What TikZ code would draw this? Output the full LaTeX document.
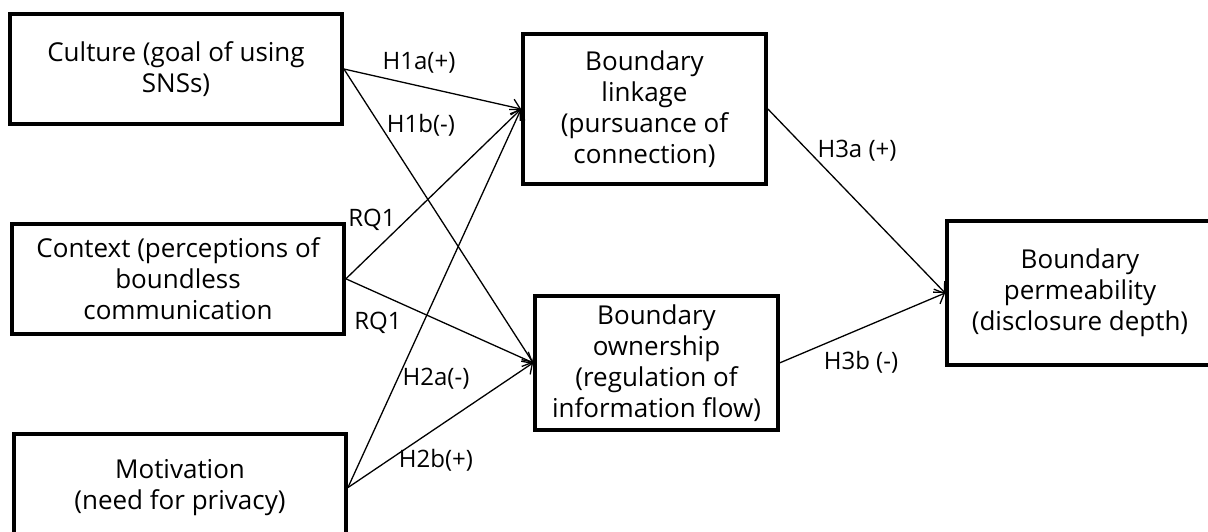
\documentclass[tikz,border=0pt]{standalone}
\usepackage{fontspec}
\setmainfont{Open Sans}
\usetikzlibrary{arrows.meta, positioning}

\begin{document}
\begin{tikzpicture}[
        x=0.5pt, y=-0.5pt,
        node distance=48pt,
        box/.style={draw, rectangle, line width=1.9pt, align=center, inner sep=0pt, font=\fontsize{13}{15.5}\selectfont},
        lbl/.style={inner sep=0pt, font=\fontsize{12}{14}\selectfont},
        arrow/.style={-{Straight Barb[length=4pt, width=8pt]}, line width=0.65pt}
    ]
        \path[use as bounding box, clip] (0,0) rectangle (1208,531);

        % Antecedents
        \node (culture) [box, minimum width=166pt, minimum height=55pt] at (176,69) {Culture (goal of using\\SNSs)};
        \node (context) [box, below=of culture, minimum width=166pt, minimum height=55pt, xshift=1pt] {Context (perceptions of\\boundless\\communication};
        \node (motivation) [box, below=of context, minimum width=166pt, minimum height=54pt, xshift=1pt] {Motivation\\(need for privacy)};

        % Boundary rules
        \node (linkage) [box, minimum width=121.5pt, minimum height=75pt] at (644.5,109) {Boundary\\linkage\\(pursuance of\\connection)};
        \node (ownership) [box, below=54pt of linkage, minimum width=121.5pt, minimum height=67pt, xshift=6pt] {Boundary\\ownership\\(regulation of\\information flow)};

        % Outcome
        \node (permeability) [box, minimum width=133pt, minimum height=72pt] at (1080,293) {Boundary\\permeability\\(disclosure depth)};

        % Connections
        \draw [arrow] (culture.east) -- (linkage.west);
        \draw [arrow] (culture.east) -- (ownership.west);
        \draw [arrow] (context.east) -- (linkage.west);
        \draw [arrow] (context.east) -- (ownership.west);
        \draw [arrow] (motivation.east) -- (linkage.west);
        \draw [arrow] (motivation.east) -- (ownership.west);
        \draw [arrow] (linkage.east) -- (permeability.west);
        \draw [arrow] (ownership.east) -- (permeability.west);

        % Path labels
        \node (h1a) [lbl] at (419,63) {H1a(+)};
        \node (h1b) [lbl] at (421,125) {H1b(-)};
        \node (rq1a) [lbl] at (372,220) {RQ1};
        \node (rq1b) [lbl] at (378,323) {RQ1};
        \node (h2a) [lbl] at (436,379) {H2a(-)};
        \node (h2b) [lbl] at (436,460) {H2b(+)};
        \node (h3a) [lbl] at (857,151) {H3a (+)};
        \node (h3b) [lbl] at (861,362) {H3b (-)};
    \end{tikzpicture}
\end{document}
